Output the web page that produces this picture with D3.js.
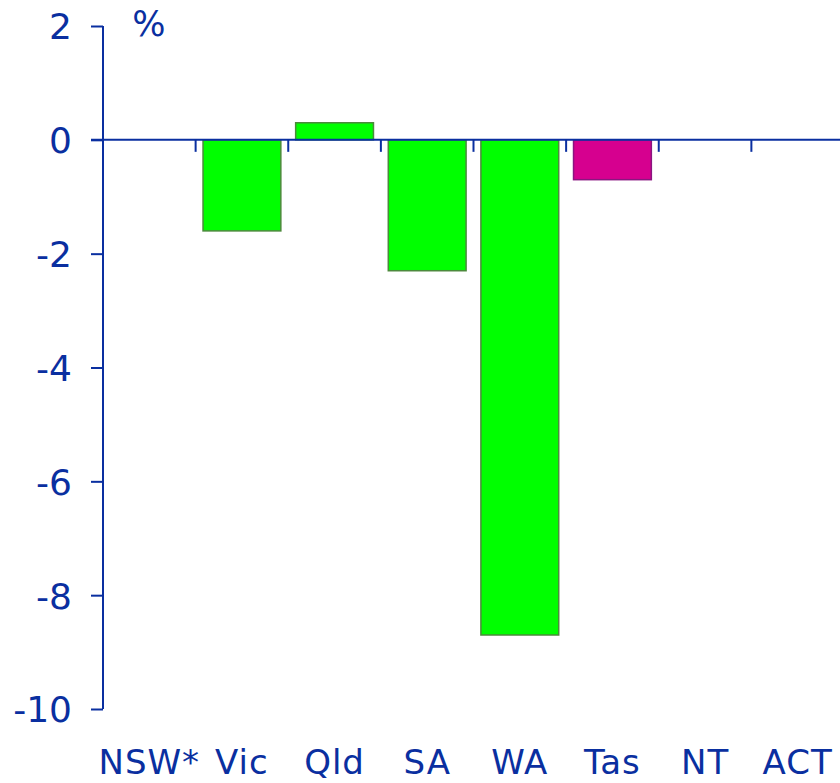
<!DOCTYPE html>
<html>
<head>
<meta charset="utf-8">
<script src="https://cdn.jsdelivr.net/npm/d3@7"></script>
<style>
  body { margin: 0; background: #fff; }
  text { font-family: "DejaVu Sans", Verdana, sans-serif; fill: #0a2fa0; }
</style>
</head>
<body>
<div id="chart"></div>
<script>
// Data
var states = ["NSW*", "Vic", "Qld", "SA", "WA", "Tas", "NT", "ACT"];
var values = [null, -1.6, 0.3, -2.3, -8.7, -0.7, null, null];
var colours = ["#00ff00", "#00ff00", "#00ff00", "#00ff00", "#00ff00", "#d6008f", "#00ff00", "#00ff00"];
var yTicks = [2, 0, -2, -4, -6, -8, -10];

var width = 840, height = 783;
var axisColour = "#0a2fa0";

var svg = d3.select("#chart").append("svg")
    .attr("width", width)
    .attr("height", height);

// Scales
var x = d3.scaleBand()
    .domain(states)
    .range([103, 844])
    .paddingInner(0.16)
    .paddingOuter(0.08);
var step = x.step();

var y = d3.scaleLinear()
    .domain([-10, 2])
    .range([709, 26]);

// Bars
svg.selectAll(".bar")
    .data(states.map(function(d, i) { return {state: d, value: values[i], colour: colours[i]}; })
      .filter(function(d) { return d.value !== null; }))
  .enter().append("rect")
    .attr("class", "bar")
    .attr("x", function(d) { return x(d.state); })
    .attr("width", x.bandwidth())
    .attr("y", function(d) { return y(Math.max(0, d.value)); })
    .attr("height", function(d) { return Math.abs(y(d.value) - y(0)); })
    .attr("fill", function(d) { return d.colour; })
    .attr("stroke", function(d) { return d.colour === "#00ff00" ? "#4c8a3c" : "#8a1580"; })
    .attr("stroke-width", 1.5);

// Y axis
var yAxis = d3.axisLeft(y)
    .tickValues(yTicks)
    .tickSize(12)
    .tickPadding(19)
    .tickFormat(function(d) { return String(d); });
var gy = svg.append("g")
    .attr("transform", "translate(103,0)")
    .call(yAxis);
gy.select(".domain").remove();
gy.append("line")
    .attr("x1", 0).attr("x2", 0)
    .attr("y1", y(2)).attr("y2", y(-10))
    .attr("stroke", axisColour).attr("stroke-width", 2);
gy.selectAll(".tick line").attr("stroke", axisColour).attr("stroke-width", 2);
gy.selectAll(".tick text")
    .style("font-size", "36px")
    .style("font-family", "'DejaVu Sans', Verdana, sans-serif")
    .attr("fill", axisColour)
    .attr("dy", "0.36em");

// Zero line with category ticks at band boundaries
svg.append("line")
    .attr("x1", 91).attr("x2", width)
    .attr("y1", y(0)).attr("y2", y(0))
    .attr("stroke", axisColour).attr("stroke-width", 2);

svg.selectAll(".cat-tick")
    .data(states.slice(0, 7))
  .enter().append("line")
    .attr("class", "cat-tick")
    .attr("x1", function(d) { return x(d) + x.bandwidth() + step * 0.08; })
    .attr("x2", function(d) { return x(d) + x.bandwidth() + step * 0.08; })
    .attr("y1", y(0))
    .attr("y2", y(0) + 12)
    .attr("stroke", axisColour)
    .attr("stroke-width", 2);

// Category labels
svg.selectAll(".cat-label")
    .data(states)
  .enter().append("text")
    .attr("class", "cat-label")
    .attr("x", function(d) { return x(d) + x.bandwidth() / 2; })
    .attr("y", 774)
    .attr("text-anchor", "middle")
    .style("font-size", "34px")
    .style("letter-spacing", "1px")
    .text(function(d) { return d; });

// Unit label
svg.append("text")
    .attr("x", 149)
    .attr("y", 36)
    .attr("text-anchor", "middle")
    .style("font-size", "35px")
    .text("%");
</script>
</body>
</html>
